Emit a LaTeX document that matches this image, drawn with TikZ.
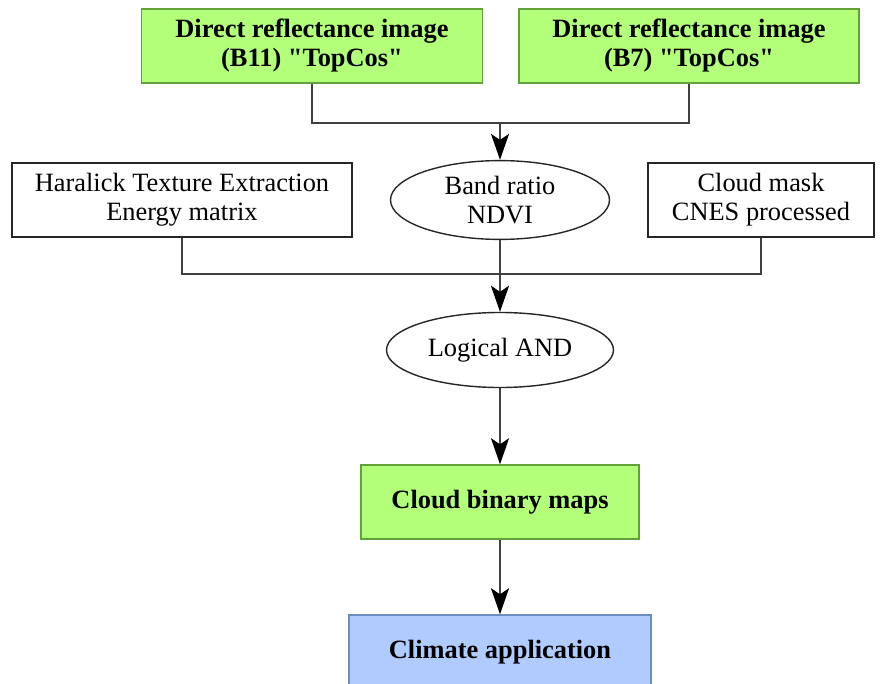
\documentclass[tikz,border=0pt]{standalone}
\usepackage{fontspec}
\setmainfont{Liberation Serif}
\usetikzlibrary{shapes.geometric,arrows.meta}
\definecolor{boxgreen}{RGB}{179,255,122}
\definecolor{edgegreen}{RGB}{98,160,58}
\definecolor{boxblue}{RGB}{176,204,255}
\definecolor{edgeblue}{RGB}{108,142,191}
\begin{document}
\begin{tikzpicture}[
        x=0.5pt, y=-0.5pt,
        every node/.style={align=center, font=\fontsize{13.2}{14.5}\selectfont, inner sep=2pt},
        plainbox/.style={rectangle, draw=black!85, line width=0.7pt, minimum height=37pt},
        inputbox/.style={plainbox, draw=edgegreen, fill=boxgreen, font=\fontsize{13.2}{14.5}\selectfont\bfseries},
        outbox/.style={plainbox, draw=edgeblue, fill=boxblue, font=\fontsize{13.2}{14.5}\selectfont\bfseries},
        oper/.style={ellipse, draw=black!85, line width=0.7pt, minimum height=37.5pt},
        link/.style={draw=black!75, line width=1pt},
        arrow/.style={link, -{Stealth[length=13pt, width=9pt, inset=3pt, color=black]}}
    ]
    \useasboundingbox (0,0) rectangle (883,684);

% Input images
        \node[inputbox, minimum width=170.5pt] (b11) at (312,46) {Direct reflectance image \\ (B11) \textquotedbl TopCos\textquotedbl};
        \node[inputbox, minimum width=170pt] (b7) at (689,46) {Direct reflectance image \\ (B7) \textquotedbl TopCos\textquotedbl};

% Processing steps
        \node[plainbox, minimum width=170pt] (haralick) at (182,200) {Haralick Texture Extraction \\ Energy matrix};
        \node[oper, minimum width=109.5pt] (ndvi) at (500,200) {Band ratio \\ NDVI};
        \node[plainbox, minimum width=113pt] (cmask) at (761,200) {Cloud mask \\ CNES processed};
        \node[oper, minimum width=113.5pt] (andop) at (500,350) {Logical AND};

% Outputs
        \node[inputbox, minimum width=139pt] (binmap) at (500,502) {Cloud binary maps};
        \node[outbox, minimum width=151pt] (climate) at (500,652) {Climate application};

% Junctions
        \coordinate (j1) at (500,123);
        \coordinate (j2) at (500,274);

% Connectors
        \draw[link] (b11) |- (j1);
        \draw[link] (b7) |- (j1);
        \draw[arrow] (j1) -- (ndvi);
        \draw[link] (haralick) |- (j2);
        \draw[link] (cmask) |- (j2);
        \draw[link] (ndvi) -- (j2);
        \draw[arrow] (j2) -- (andop);
        \draw[arrow] (andop) -- (binmap);
        \draw[arrow] (binmap) -- (climate);

    \end{tikzpicture}
\end{document}
